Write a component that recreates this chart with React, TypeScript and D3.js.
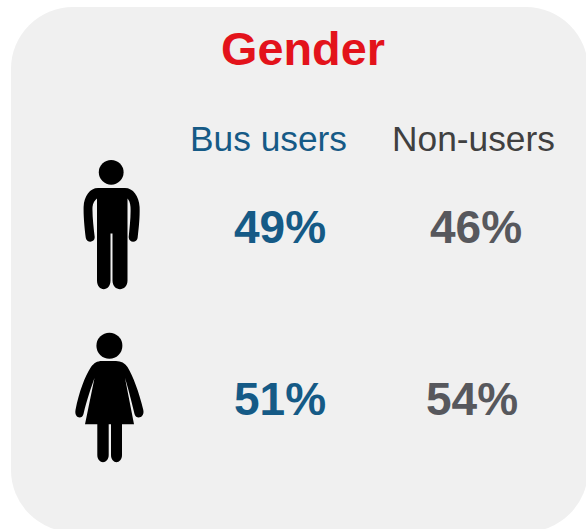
import React from "react";
import * as d3 from "d3";

const groups = ["Bus users", "Non-users"];
const genders = ["male", "female"];
const busUsers = [49, 51];
const nonUsers = [46, 54];
const seriesColors = ["#155a86", "#57585d"];
const headerColors = ["#155a86", "#404040"];

const FONT = "'Liberation Sans', Arial, sans-serif";
const x = d3.scaleOrdinal<string, number>().domain(groups).range([280, 476]);
const y = d3.scaleOrdinal<string, number>().domain(genders).range([243, 415]);

const man =
  "M98 188 L125 188 C133 188 139 196 139.6 207 C140 218 138.5 230 137.6 238 C137 243 128.5 243 128.7 237 C129.5 228 131 216 130.5 207 C130.3 203 129 200 127.5 198.5 L127.5 280.5 C127.5 292 112.5 292 112.5 280.5 L112.5 233.5 L110.5 233.5 L110.5 280.5 C110.5 292 97 292 97 280.5 L97 198.5 C95 200 92.8 203 92.5 207 C92.2 216 93.6 228 94.7 237 C95 243 86.5 243 85.8 238 C84.8 230 83.4 218 83.6 207 C84 196 90 188 98 188 Z";
const woman =
  "M102 361 L116 361 C121 361 125 363 127.5 367 C133 376 139 392 143.3 410 C145 418 136 420 134.5 414 C131 399 128 388 125 378 L134 424.3 L122 424.3 L122 455 C122 464.5 111 464.5 111 455 L111 424.3 L108.7 424.3 L108.7 455 C108.7 464.5 97.3 464.5 97.3 455 L97.3 424.3 L85 424.3 L94.5 378 C91 388 87 399 83.5 414 C82 420 74 418 75.5 410 C79 392 85 376 91 367 C94 363 97 361 102 361 Z";

export default function App() {
  const rows = [busUsers, nonUsers];
  return (
    <svg
      width={586}
      height={529}
      viewBox="0 0 586 529"
      style={{ position: "absolute", left: 0, top: 0, display: "block" }}
    >
      <rect x={11} y={7} width={577} height={525} rx={62} ry={62} fill="#f0f0f0" />
      <text x={303} y={65} textAnchor="middle" fontFamily={FONT} fontWeight={700} fontSize={46.8} fill="#e3131b">
        Gender
      </text>
      {groups.map((g, i) => (
        <text
          key={g}
          x={i === 0 ? 268.5 : 473.5}
          y={151}
          textAnchor="middle"
          fontFamily={FONT}
          fontSize={35.3}
          fill={headerColors[i]}
        >
          {g}
        </text>
      ))}
      {groups.map((g, i) =>
        genders.map((s, j) => (
          <text
            key={g + s}
            x={(x(g) as number) + (i === 1 && j === 1 ? -4 : 0)}
            y={y(s)}
            textAnchor="middle"
            fontFamily={FONT}
            fontWeight={700}
            fontSize={46}
            fill={seriesColors[i]}
          >
            {rows[i][j]}%
          </text>
        ))
      )}
      <circle cx={111.2} cy={172.3} r={12.4} fill="#000" />
      <path d={man} fill="#000" />
      <circle cx={109.4} cy={345.8} r={13} fill="#000" />
      <path d={woman} fill="#000" />
    </svg>
  );
}
